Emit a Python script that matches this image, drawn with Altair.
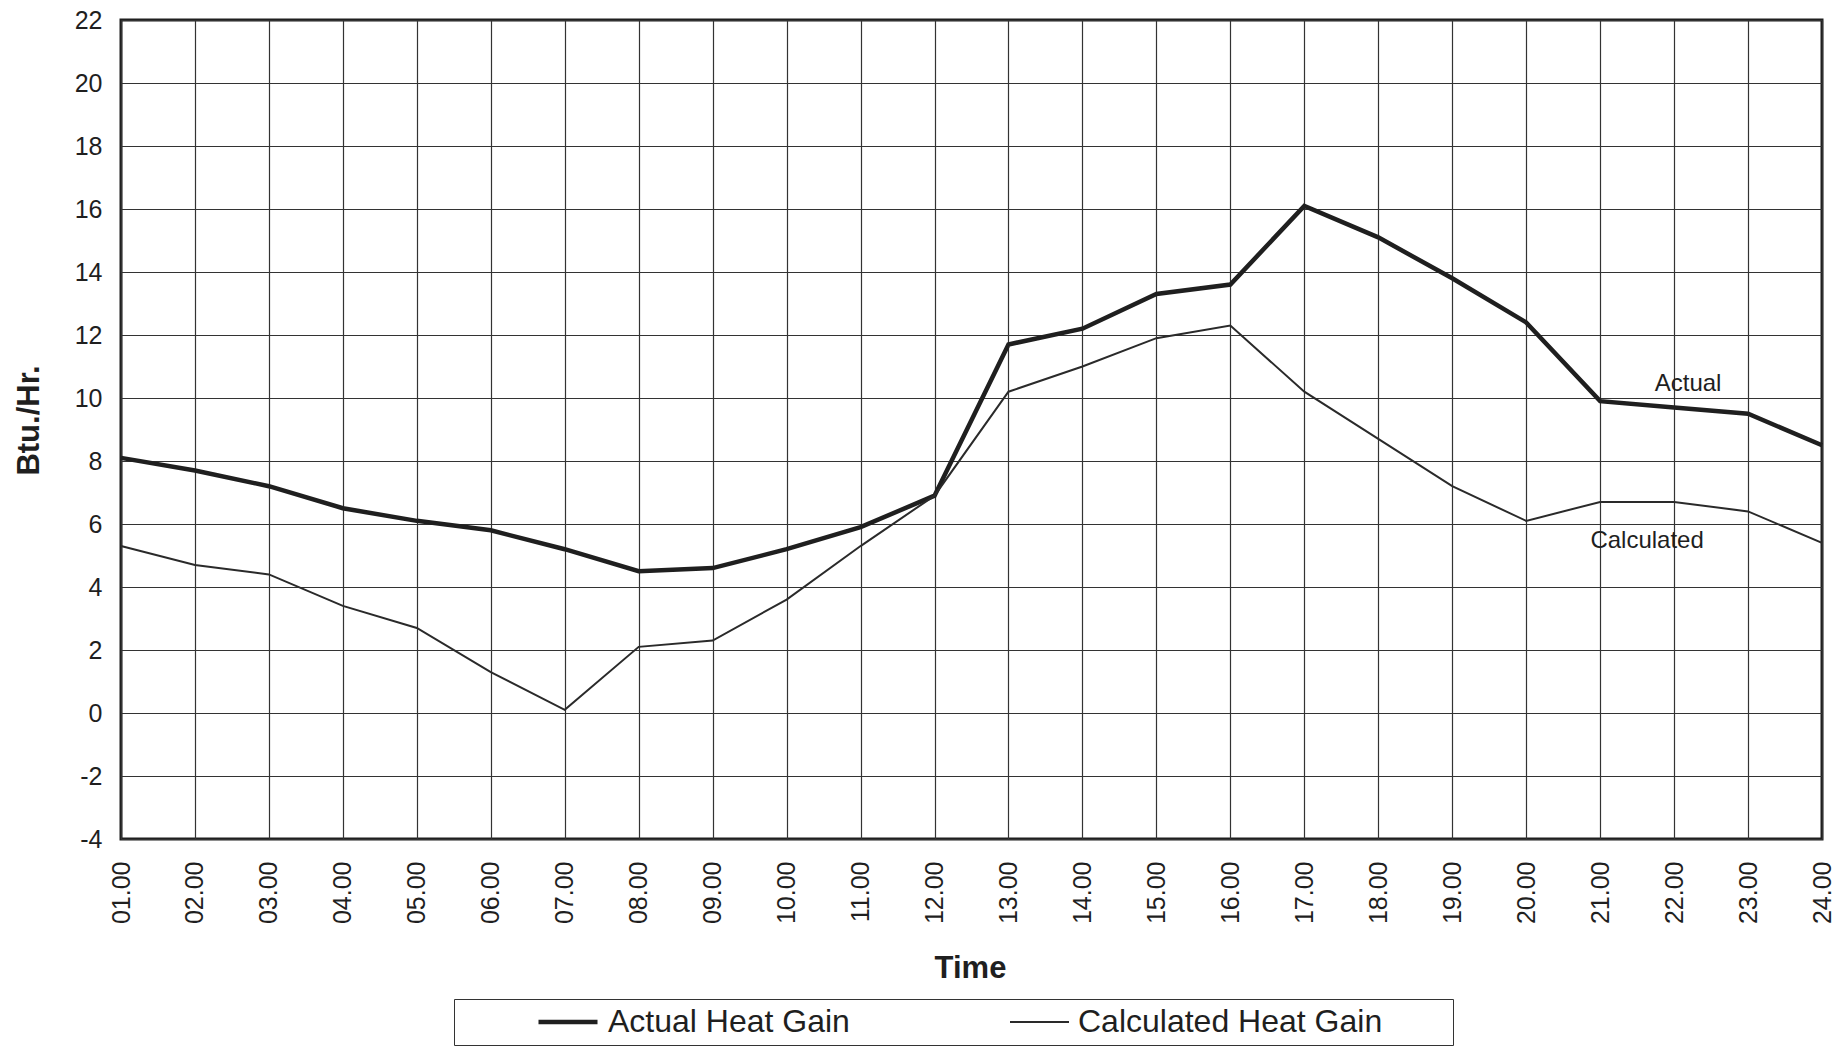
import altair as alt
import pandas as pd

# Hourly heat gain, Btu./Hr.
hours = ["01.00", "02.00", "03.00", "04.00", "05.00", "06.00", "07.00", "08.00",
         "09.00", "10.00", "11.00", "12.00", "13.00", "14.00", "15.00", "16.00",
         "17.00", "18.00", "19.00", "20.00", "21.00", "22.00", "23.00", "24.00"]
actual = [8.1, 7.7, 7.2, 6.5, 6.1, 5.8, 5.2, 4.5, 4.6, 5.2, 5.9, 6.9,
          11.7, 12.2, 13.3, 13.6, 16.1, 15.1, 13.8, 12.4, 9.9, 9.7, 9.5, 8.5]
calculated = [5.3, 4.7, 4.4, 3.4, 2.7, 1.3, 0.1, 2.1, 2.3, 3.6, 5.3, 6.9,
              10.2, 11.0, 11.9, 12.3, 10.2, 8.7, 7.2, 6.1, 6.7, 6.7, 6.4, 5.4]
series_names = ["Actual Heat Gain", "Calculated Heat Gain"]
y_ticks = list(range(-4, 23, 2))

rows = []
for h, a, c in zip(hours, actual, calculated):
    rows.append({"time": h, "gain": a, "series": series_names[0]})
    rows.append({"time": h, "gain": c, "series": series_names[1]})
df = pd.DataFrame(rows)

FONT = "Liberation Sans"
INK = "#1f1f1f"

x_enc = alt.X(
    "time:O",
    sort=hours,
    scale=alt.Scale(type="point", padding=0),
    axis=alt.Axis(
        title="Time",
        labelAngle=-90,
        labelFontSize=25,
        labelPadding=22,
        titleFontSize=31,
        titleFontWeight="bold",
        titleX=849,
        titleY=129,
        titleBaseline="middle",
    ),
)
y_enc = alt.Y(
    "gain:Q",
    scale=alt.Scale(domain=[-4, 22], nice=False, zero=False),
    axis=alt.Axis(
        title="Btu./Hr.",
        values=y_ticks,
        labelExpr="replace(datum.label, '\u2212', '-')",
        labelFontSize=25,
        labelPadding=19,
        titleFontSize=31,
        titleFontWeight="bold",
        titleX=-92,
        titleY=400,
        titleAngle=-90,
        titleBaseline="middle",
    ),
)

# A blank title on the right keeps the same margin inside the box on both sides
legend_spec = alt.Legend(title="\u00a0", titleOrient="right", titlePadding=66)

lines = alt.Chart(df).mark_line(strokeJoin="miter").encode(
    x=x_enc,
    y=y_enc,
    color=alt.Color(
        "series:N",
        scale=alt.Scale(domain=series_names, range=[INK, "#2a2a2a"]),
        legend=legend_spec,
    ),
    strokeWidth=alt.StrokeWidth(
        "series:N",
        scale=alt.Scale(domain=series_names, range=[4.5, 2.0]),
        legend=legend_spec,
    ),
)

# Series name tags next to the right end of each curve
note_actual = pd.DataFrame({"time": ["22.00"], "gain": [10.46], "text": ["Actual"]})
note_calc = pd.DataFrame({"time": ["22.00"], "gain": [5.45], "text": ["Calculated"]})

tag_actual = alt.Chart(note_actual).mark_text(
    font=FONT, fontSize=24, color=INK, dx=14
).encode(x=alt.X("time:O", sort=hours), y="gain:Q", text="text:N")
tag_calc = alt.Chart(note_calc).mark_text(
    font=FONT, fontSize=24, color=INK, dx=-27
).encode(x=alt.X("time:O", sort=hours), y="gain:Q", text="text:N")

chart = (
    alt.layer(lines, tag_actual, tag_calc)
    .properties(
        width=1701,
        height=819,
        autosize=alt.AutoSizeParams(type="none"),
        padding={"left": 121, "top": 20, "right": 19, "bottom": 208},
        background="white",
    )
    .configure_view(stroke=INK, strokeWidth=3)
    .configure_axis(
        labelFont=FONT,
        titleFont=FONT,
        labelColor=INK,
        titleColor=INK,
        grid=True,
        gridColor="#333333",
        gridWidth=1.2,
        ticks=False,
        domain=False,
    )
    .configure_legend(
        orient="none",
        legendX=333,
        legendY=979,
        direction="horizontal",
        labelFont=FONT,
        labelFontSize=32,
        labelColor=INK,
        labelLimit=0,
        symbolType="stroke",
        symbolSize=3481,
        symbolOffset=77,
        columnPadding=82,
        labelOffset=8,
        clipHeight=36,
        padding=5,
        strokeColor="#333333",
    )
)

chart.save("out.html", embed_options={"renderer": "svg", "actions": False})
